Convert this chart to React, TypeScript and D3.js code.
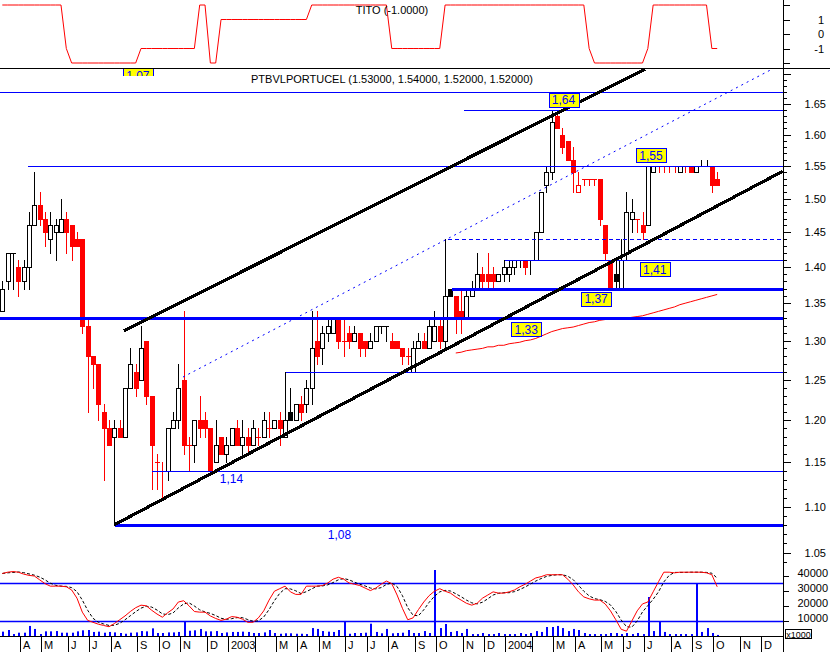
import React from 'react';
import * as d3 from 'd3';

// ---------- weekly OHLC (PTBVL PORTUCEL) ----------
const OPEN = [1.34,1.38,1.42,1.40,1.38,1.40,1.46,1.49,1.47,1.44,
 1.45,1.45,1.47,1.46,1.44,1.44,1.32,1.28,1.27,1.21,
 1.19,1.18,1.19,1.18,1.24,1.26,1.25,1.30,1.23,1.15,
 1.14,1.14,1.19,1.20,1.25,1.17,1.17,1.20,1.20,1.19,
 1.15,1.18,1.16,1.17,1.19,1.17,1.18,1.17,1.18,1.18,
 1.19,1.19,1.20,1.18,1.21,1.20,1.22,1.22,1.24,1.30,
 1.29,1.31,1.31,1.33,1.30,1.31,1.30,1.31,1.30,1.29,
 1.30,1.32,1.32,1.30,1.30,1.29,1.28,1.26,1.29,1.30,
 1.29,1.30,1.32,1.30,1.37,1.36,1.34,1.33,1.36,1.37,
 1.39,1.39,1.39,1.38,1.39,1.39,1.40,1.41,1.41,1.41,
 1.41,1.45,1.52,1.54,1.63,1.60,1.59,1.56,1.51,1.53,
 1.53,1.53,1.53,1.46,1.41,1.39,1.37,1.42,1.47,1.47,
 1.46,1.46,1.54,1.55,1.55,1.55,1.55,1.54,1.55,1.55,
 1.54,1.55,1.55,1.55,1.53];
const HIGH = [1.38,1.42,1.42,1.41,1.41,1.48,1.54,1.51,1.48,1.48,
 1.47,1.50,1.48,1.46,1.45,1.44,1.33,1.28,1.27,1.22,
 1.20,1.20,1.20,1.24,1.29,1.27,1.32,1.30,1.23,1.16,
 1.15,1.19,1.21,1.27,1.34,1.18,1.20,1.23,1.21,1.19,
 1.20,1.18,1.18,1.19,1.20,1.20,1.19,1.20,1.19,1.21,
 1.21,1.20,1.21,1.26,1.24,1.22,1.23,1.25,1.34,1.34,
 1.32,1.33,1.33,1.33,1.33,1.32,1.32,1.31,1.30,1.31,
 1.32,1.32,1.32,1.31,1.30,1.29,1.29,1.30,1.31,1.31,
 1.33,1.34,1.33,1.44,1.37,1.36,1.37,1.37,1.38,1.42,
 1.40,1.42,1.40,1.39,1.41,1.41,1.41,1.41,1.41,1.41,
 1.45,1.51,1.55,1.64,1.64,1.61,1.59,1.58,1.54,1.53,
 1.53,1.53,1.53,1.46,1.41,1.41,1.44,1.51,1.50,1.47,
 1.48,1.55,1.55,1.55,1.55,1.55,1.55,1.55,1.55,1.55,
 1.55,1.56,1.56,1.55,1.54];
const LOW = [1.34,1.37,1.37,1.36,1.37,1.37,1.46,1.46,1.43,1.42,
 1.41,1.45,1.42,1.41,1.43,1.31,1.21,1.24,1.20,1.13,
 1.17,1.08,1.18,1.18,1.24,1.23,1.25,1.22,1.12,1.12,
 1.11,1.13,1.19,1.19,1.16,1.14,1.15,1.18,1.18,1.14,
 1.15,1.16,1.15,1.17,1.17,1.16,1.16,1.17,1.17,1.18,
 1.18,1.19,1.17,1.18,1.20,1.20,1.20,1.21,1.22,1.27,
 1.27,1.30,1.31,1.29,1.28,1.29,1.30,1.28,1.28,1.29,
 1.30,1.31,1.30,1.29,1.29,1.27,1.27,1.26,1.29,1.29,
 1.29,1.30,1.29,1.29,1.36,1.31,1.31,1.33,1.36,1.37,
 1.37,1.37,1.37,1.38,1.38,1.38,1.39,1.40,1.39,1.39,
 1.41,1.45,1.51,1.53,1.61,1.57,1.56,1.51,1.51,1.52,
 1.52,1.52,1.46,1.41,1.37,1.37,1.37,1.41,1.45,1.45,
 1.44,1.46,1.54,1.54,1.54,1.54,1.54,1.54,1.54,1.54,
 1.54,1.55,1.55,1.51,1.52];
const CLOSE = [1.37,1.42,1.42,1.38,1.40,1.46,1.49,1.47,1.45,1.46,
 1.46,1.47,1.45,1.43,1.43,1.32,1.28,1.27,1.22,1.19,
 1.17,1.19,1.18,1.24,1.27,1.24,1.29,1.23,1.17,1.15,
 1.14,1.19,1.20,1.24,1.17,1.17,1.20,1.19,1.19,1.14,
 1.17,1.16,1.17,1.19,1.17,1.18,1.17,1.19,1.18,1.20,
 1.19,1.20,1.19,1.20,1.20,1.22,1.21,1.24,1.29,1.28,
 1.31,1.32,1.33,1.30,1.30,1.30,1.31,1.29,1.29,1.30,
 1.32,1.32,1.32,1.29,1.29,1.28,1.28,1.29,1.30,1.29,
 1.32,1.32,1.30,1.36,1.36,1.33,1.33,1.36,1.37,1.39,
 1.38,1.38,1.38,1.39,1.40,1.40,1.41,1.41,1.40,1.41,
 1.45,1.51,1.54,1.62,1.61,1.58,1.56,1.54,1.52,1.53,
 1.53,1.53,1.47,1.42,1.37,1.38,1.41,1.48,1.48,1.47,
 1.45,1.55,1.55,1.55,1.55,1.55,1.55,1.55,1.55,1.54,
 1.55,1.55,1.55,1.52,1.52];
// u = up week (black), d = down week (red)
const DIR = ('uuuduuuddu' + 'uudddddddd' + 'duduududdd' + 'duuudduddd' + 'uduudududu' +
  'duduuuduud' + 'uuuddduddu' + 'uuudddduud' + 'uuduudduuu' + 'ddduuuuudu' +
  'uuuudddddd' + 'ddddduuuud' + 'duuddddudd' + 'uuudd').split('');
const VOLUME = [2900,4000,1300,2200,2200,6700,4700,1300,3100,3100,
 3300,2200,2200,2200,3100,3800,4000,2700,2900,2200,
 2700,2400,2000,1500,2200,2400,3300,3100,5100,2000,
 2000,2400,2400,2700,10000,3500,3800,4700,3100,3100,
 3300,2000,2400,2700,2700,2900,2700,2000,2000,2400,
 4000,2000,1500,1800,1800,1500,1500,1300,5300,4700,
 3300,2900,2700,4000,10000,1500,2000,2000,2200,8200,
 2700,1800,4700,1800,2000,2200,4000,2000,2000,3300,
 2000,44000,5300,8000,2700,3300,2000,4700,1300,1300,
 2000,1300,1300,2000,1300,1300,1300,2000,1300,2000,
 3300,2700,6000,6000,6700,5300,3300,4700,4000,2000,
 1300,1300,1300,1300,2000,2000,1300,2000,1300,2000,
 1300,26000,3300,10000,2700,1300,1300,1300,1300,1300,
 35300,2700,5300,2000,700];
const STOCH_K = [95,97,98,97,94,92,91,85,79,75,
 75,75,74,69,56,34,21,18,15,13,
 11,16,22,28,35,41,45,44,37,31,
 26,33,39,50,52,44,35,34,34,28,
 24,21,23,27,26,23,18,18,25,36,
 53,67,71,75,66,62,62,75,75,75,
 76,80,86,89,86,80,78,76,72,68,
 72,78,83,79,61,40,22,25,38,50,
 60,67,71,67,64,58,53,48,45,48,
 56,61,66,64,64,66,69,74,78,83,
 88,90,93,93,93,93,86,77,66,58,
 55,53,53,47,36,22,7,4,20,36,
 47,50,66,82,97,97,96,97,97,97,
 97,97,96,93,74];
const TITO = [2,2,2,2,2,2,2,2,2,2,2,2,-1,
 -2,-2,-2,-2,-2,-2,-2,-2,-2,-2,-2,-2,-2,
 -1,-1,-1,-1,-1,-1,-1,-1,-1,-1,-1,
 2,2,-2,-2,
 1,1,1,1,1,1,1,1,1,1,1,1,1,1,1,1,1,
 2,2,2,2,2,2,2,2,2,2,2,2,2,2,2,
 -1,-1,-1,-1,-1,-1,-1,-1,-1,-1,
 2,2,2,2,2,2,2,2,2,2,2,2,2,2,2,2,2,2,2,2,2,2,2,2,2,2,2,
 -1,
 -2,-2,-2,-2,-2,-2,-2,-2,-2,-2,
 -1,
 2,2,2,2,2,2,2,2,2,2,2,
 -1,-1];
const MA_START = 85;
const MA = [1.284,1.285,1.287,1.288,1.289,1.290,1.292,1.292,1.294,1.294,
 1.296,1.297,1.298,1.300,1.301,1.303,1.306,1.309,1.312,1.314,
 1.316,1.317,1.318,1.320,1.322,1.324,1.325,1.327,1.328,1.329,
 1.330,1.330,1.330,1.331,1.332,1.333,1.335,1.337,1.339,1.341,
 1.343,1.345,1.348,1.350,1.352,1.354,1.356,1.358,1.360,1.362];

// horizontal support / resistance levels (price, first week index)
const LEVEL_PRICE = [1.67, 1.64, 1.55, 1.44, 1.41, 1.37, 1.33, 1.26, 1.14, 1.08];
const LEVEL_FROM = [-0.5, 86.5, 4.8, 83.5, 94.3, 84.2, -0.5, 53.2, 28, 21.1];
const THICK_LEVELS = [1.37, 1.33, 1.08];
const DASHED_LEVELS = [1.44];
// trend lines: [week0, price0, week1, price1]
const TREND_SOLID = [[22.81, 1.313, 120.5, 1.709], [21.0, 1.08, 146.3, 1.542]];
const TREND_DOTTED = [[33.87, 1.2533, 143.9, 1.707]];
// yellow tags
const TAG_TEXT = ['1,64', '1,55', '1,41', '1,37', '1,33', '1,07'];
const TAG_AT = [[105.2, 1.657], [121.6, 1.567], [122.3, 1.397], [111.3, 1.356], [98.2, 1.315], [25.4, 1.698]];
const NOTE_TEXT = ['1,14', '1,08'];
const NOTE_AT = [[42.96, 1.131], [63.2, 1.069]];

const PRICE_TICKS = d3.range(104, 172).map(k => k / 100);
const TITO_TICKS = [2, 1, 0, -1, -2];
const TITO_LABELS = [1, 0, -1];
const VOL_TICKS = [10000, 20000, 30000, 40000];
const MONTHS = ['J', 'F', 'M', 'A', 'M', 'J', 'J', 'A', 'S', 'O', 'N', 'D'];

const START = new Date(2002, 2, 15);
const WEEK = 7 * 24 * 3600 * 1000;

const FONT = "'Liberation Sans', Arial, Helvetica, sans-serif";
const RED = '#ff0000';
const BLUE = '#0000ff';

export default function App() {
  const W = 830, H = 652, AX = 783;
  const t0 = START.getTime();
  const x = d3.scaleTime().domain([START, new Date(t0 + 150 * WEEK)]).range([2.3, 2.3 + 5.335 * 150]);
  const xi = (i: number) => x(new Date(t0 + i * WEEK)) as number;
  const y = d3.scaleLog().domain([1.08, 1.64]).range([524.8, 110]);
  const yT = d3.scaleLinear().domain([-2, 2]).range([63, 5]);
  const yS = d3.scaleLinear().domain([0, 100]).range([633.7, 570.3]);
  const yV = d3.scaleLinear().domain([0, 40000]).range([636, 576]);

  const stochD = STOCH_K.map((_, i) => d3.mean(STOCH_K.slice(Math.max(0, i - 2), i + 1)) as number);
  const lineK = d3.line<number>().x((_, i) => xi(i)).y(v => yS(v));
  const lineT = d3.line<number>().x((_, i) => xi(i)).y(v => yT(v));
  const lineMA = d3.line<number>().x((_, i) => xi(i + MA_START)).y(v => y(v));

  // month separators: first weekly bar of every month
  const seps: { x: number; m: number; yr: number }[] = [];
  let prevM = -1;
  for (let i = -6; i < 150; i++) {
    const d = d3.timeDay.offset(START, 7 * i);
    if (d.getMonth() !== prevM) {
      if (prevM !== -1) {
        const sx = Math.round(xi(i) + 1.5);
        if (sx > 0 && sx < AX) seps.push({ x: sx, m: d.getMonth(), yr: d.getFullYear() });
      }
      prevM = d.getMonth();
    }
  }

  const candles = CLOSE.map((c, i) => {
    const o = OPEN[i], h = HIGH[i], l = LOW[i];
    const cx = Math.round(xi(i));
    const col = DIR[i] === 'u' ? '#000' : RED;
    const yo = Math.round(y(o)), yc = Math.round(y(c));
    const top = Math.min(yo, yc), bot = Math.max(yo, yc);
    const yh = Math.round(y(h)), yl = Math.round(y(l));
    let body;
    if (bot - top < 1) {
      body = <line x1={cx - 2} x2={cx + 3} y1={top + 0.5} y2={top + 0.5} stroke={col} />;
    } else if (c < o) {
      body = <rect x={cx - 2} y={top} width={5} height={bot - top + 1} fill={col} />;
    } else {
      body = <rect x={cx - 1.5} y={top + 0.5} width={4} height={bot - top} fill="#fff" stroke={col} />;
    }
    return (
      <g key={i}>
        <line x1={cx + 0.5} x2={cx + 0.5} y1={yh} y2={yl + 1} stroke={col} />
        {body}
      </g>
    );
  });

  const trendPath = (t: number[]) => {
    const x0 = xi(t[0]), y0 = y(t[1]), x1 = xi(t[2]), y1 = y(t[3]);
    return `M${x0},${y0}L${x1},${y1}`;
  };

  return (
    <svg width={W} height={H} viewBox={`0 0 ${W} ${H}`}
      style={{ position: 'absolute', left: 0, top: 0, background: '#fff', display: 'block' }}
      fontFamily={FONT}>
      <defs>
        <clipPath id="mainClip"><rect x={0} y={69} width={AX} height={497} /></clipPath>
        <clipPath id="lowClip"><rect x={0} y={560} width={AX} height={76} /></clipPath>
        <clipPath id="tagClip"><rect x={0} y={68.5} width={AX} height={7.5} /></clipPath>
      </defs>
      <rect x={0} y={0} width={W} height={H} fill="#fff" />

      {/* ---------- TITO panel ---------- */}
      <path d={lineT(TITO) || ''} fill="none" stroke={RED} strokeWidth={1} />
      <text x={392} y={14} fontSize={11} textAnchor="middle">TITO (-1.0000)</text>
      {TITO_TICKS.map(v => (
        <line key={v} x1={AX} x2={AX + 7} y1={Math.round(yT(v)) + 0.5} y2={Math.round(yT(v)) + 0.5} stroke="#000" />
      ))}
      {TITO_LABELS.map(v => (
        <text key={v} x={824} y={yT(v) + 4} fontSize={11} textAnchor="end">{v}</text>
      ))}
      <line x1={0} x2={W} y1={68.5} y2={68.5} stroke="#000" />

      {/* ---------- price panel ---------- */}
      <text x={392} y={83} fontSize={11} textAnchor="middle">PTBVLPORTUCEL (1.53000, 1.54000, 1.52000, 1.52000)</text>
      <g clipPath="url(#mainClip)">
        {candles}
        <path d={lineMA(MA) || ''} fill="none" stroke={RED} strokeWidth={1} />
        {LEVEL_PRICE.map((p, k) => {
          const thick = THICK_LEVELS.includes(p);
          const yy = Math.round(y(p)) + (thick ? 0 : 0.5);
          return (
            <line key={k} x1={Math.max(0, xi(LEVEL_FROM[k]))} x2={AX} y1={yy} y2={yy} stroke={BLUE}
              strokeWidth={thick ? 3 : 1} shapeRendering="crispEdges"
              strokeDasharray={DASHED_LEVELS.includes(p) ? '4,3' : undefined} />
          );
        })}
        {TREND_DOTTED.map((t, k) => (
          <path key={k} d={trendPath(t)} stroke={BLUE} strokeWidth={1} strokeDasharray="2,4" fill="none" />
        ))}
        {TREND_SOLID.map((t, k) => (
          <path key={k} d={trendPath(t)} stroke="#000" strokeWidth={3.2} fill="none" shapeRendering="crispEdges" />
        ))}
        {TAG_TEXT.map((t, k) => {
          const cx = xi(TAG_AT[k][0]), cy = y(TAG_AT[k][1]);
          const g = (
            <g key={k}>
              <rect x={Math.round(cx - 15) + 0.5} y={Math.round(cy - 7) + 0.5} width={30} height={14} fill="#ffff00" stroke={BLUE} />
              <text x={cx} y={cy + 4.5} fontSize={12} fill={BLUE} textAnchor="middle">{t}</text>
            </g>
          );
          return cy < 80 ? <g key={k} clipPath="url(#tagClip)">{g}</g> : g;
        })}
        {NOTE_TEXT.map((t, k) => (
          <text key={k} x={xi(NOTE_AT[k][0])} y={y(NOTE_AT[k][1]) + 4.5} fontSize={12} fill={BLUE} textAnchor="middle">{t}</text>
        ))}
      </g>
      {PRICE_TICKS.map(p => {
        const yy = Math.round(y(p)) + 0.5;
        if (yy < 70 || yy > 566) return null;
        const major = Math.round(p * 100) % 5 === 0;
        return <line key={p} x1={AX} x2={AX + (major ? 8 : 4)} y1={yy} y2={yy} stroke="#000" />;
      })}
      {PRICE_TICKS.filter(p => Math.round(p * 100) % 5 === 0).map(p => {
        const yy = y(p);
        if (yy < 90 || yy > 560) return null;
        return <text key={p} x={826} y={yy + 4} fontSize={11} textAnchor="end">{p.toFixed(2)}</text>;
      })}

      {/* ---------- volume / stochastic panel ---------- */}
      <g clipPath="url(#lowClip)">
        {VOLUME.map((v, i) => {
          const cx = Math.round(xi(i));
          return <rect key={i} x={cx} y={yV(v)} width={2} height={yV(0) - yV(v)} fill={BLUE} />;
        })}
        {[80, 20].map(v => (
          <line key={v} x1={0} x2={AX} y1={Math.round(yS(v)) + 0.5} y2={Math.round(yS(v)) + 0.5} stroke={BLUE} strokeWidth={1.3} />
        ))}
        <path d={lineK(stochD) || ''} fill="none" stroke="#000" strokeWidth={1} strokeDasharray="3,2" />
        <path d={lineK(STOCH_K) || ''} fill="none" stroke={RED} strokeWidth={1} />
      </g>
      {VOL_TICKS.map(v => (
        <g key={v}>
          <line x1={AX} x2={AX + 6} y1={Math.round(yV(v)) + 0.5} y2={Math.round(yV(v)) + 0.5} stroke="#000" />
          <text x={828} y={yV(v) + 1} fontSize={11} textAnchor="end">{v}</text>
        </g>
      ))}
      <rect x={785.5} y={629.5} width={26} height={9} fill="#fff" stroke="#000" />
      <text x={798.5} y={637.5} fontSize={9} textAnchor="middle">x1000</text>

      {/* ---------- axes ---------- */}
      <line x1={AX + 0.5} x2={AX + 0.5} y1={0} y2={652} stroke="#000" />
      <line x1={0} x2={AX} y1={636.5} y2={636.5} stroke="#000" />
      {seps.map((s, k) => (
        <g key={k}>
          <line x1={s.x + 0.5} x2={s.x + 0.5} y1={636} y2={652} stroke="#000" />
          {s.m !== 1 && (
            <text x={s.x + 3} y={649} fontSize={11}>{s.m === 0 ? String(s.yr) : MONTHS[s.m]}</text>
          )}
        </g>
      ))}
    </svg>
  );
}
